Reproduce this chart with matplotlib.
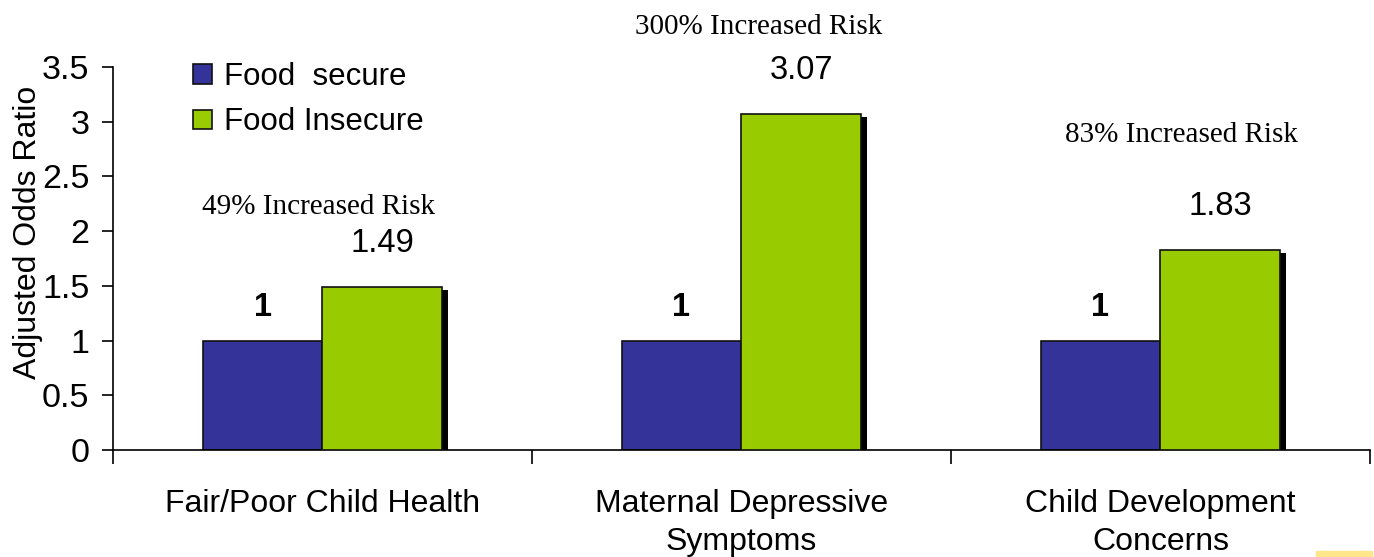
#!/usr/bin/env python
"""
    Adjusted odds ratios, food secure vs food insecure
    grouped bars with drop shadow
    """
# --------------------------------------------------------------------------------/
import numpy as np
import matplotlib.pyplot as plt
import matplotlib.patheffects as pe
from matplotlib.patches import Rectangle
# --------------------------------------------------------------------------------/
categories = ['Fair/Poor Child Health', 'Maternal Depressive\nSymptoms',
              'Child Development\nConcerns']
secure     = [1, 1, 1]
insecure   = [1.49, 3.07, 1.83]
risk_text  = ['49% Increased Risk', '300% Increased Risk', '83% Increased Risk']
series     = ['Food  secure', 'Food Insecure']
# --------------------------------------------------------------------------------/
blue, green = '#333399', '#99CC00'
sans  = ['Liberation Sans', 'DejaVu Sans']
serif = ['Liberation Serif', 'DejaVu Serif']
plt.rcParams['font.family'] = sans

fig = plt.figure(figsize=(13.74, 5.57), dpi=100)
axe = fig.add_axes([0.0822, 0.192, 0.9148, 0.688])

x = np.arange(len(categories))
w = 0.286
shadow = [pe.SimplePatchShadow(offset=(4.3, -2.2), shadow_rgbFace='black', alpha=1.0),
          pe.Normal()]

b1 = axe.bar(x - w/2, secure, w, color=blue, edgecolor='#111111', linewidth=1.2, zorder=2)
b2 = axe.bar(x + w/2, insecure, w, color=green, edgecolor='#111111', linewidth=1.2, zorder=3)
for bar in list(b1) + list(b2):
    bar.set_path_effects(shadow)

# value labels
for xi, v in zip(x, secure):
    axe.annotate('%g' % v, (xi - w/2, v), xytext=(0, 24), textcoords='offset points',
                 ha='center', va='center', fontsize=23.5, fontweight='bold')
for xi, v in zip(x, insecure):
    axe.annotate('%g' % v, (xi + w/2, v), xytext=(0, 31), textcoords='offset points',
                 ha='center', va='center', fontsize=23.5)

# risk text
risk_pos = [(-0.01, 2.22), (1.04, 3.86), (2.05, 2.88)]
for txt, (rx, ry) in zip(risk_text, risk_pos):
    axe.text(rx, ry, txt, ha='center', va='center', fontsize=21,
             family=serif, clip_on=False)

axe.set_xlim(-0.5, len(categories) - 0.5)
axe.set_ylim(0, 3.5)
yt = np.arange(0, 3.51, 0.5)
axe.set_yticks(yt)
axe.set_yticklabels(['%g' % t for t in yt])
axe.set_xticks(x)
axe.set_xticklabels(categories, linespacing=1.36)
axe.set_xticks(np.arange(-0.5, len(categories)), minor=True)
axe.tick_params(axis='x', which='major', length=0, pad=28, labelsize=23)
axe.tick_params(axis='x', which='minor', length=10, width=1.2, direction='out')
axe.tick_params(axis='y', length=8, width=1.2, pad=9, labelsize=24.5)
axe.set_ylabel('Adjusted Odds Ratio', fontsize=23)
axe.yaxis.set_label_coords(-0.056, 0.567)

for s in ['top', 'right']:
    axe.spines[s].set_visible(False)
for s in ['left', 'bottom']:
    axe.spines[s].set_linewidth(1.2)

handles = [Rectangle((0, 0), 1, 1, facecolor=c, edgecolor='#111111', linewidth=1.2)
           for c in (blue, green)]
axe.legend(handles, series, loc='upper left', bbox_to_anchor=(0.064, 1.013), frameon=False,
           fontsize=22.5, handlelength=0.6, handleheight=0.6, handletextpad=0.38,
           labelspacing=0.5, borderpad=0, borderaxespad=0)

# small yellow mark in the corner
fig.patches.append(Rectangle((1316/1374, 0), 56/1374, 6/557, transform=fig.transFigure,
                             color='#FFE68A', zorder=0))

fig.savefig('out.png', dpi=100)
# --------------------------------------------------------------------------------/
# eof
# --------------------------------------------------------------------------------/
